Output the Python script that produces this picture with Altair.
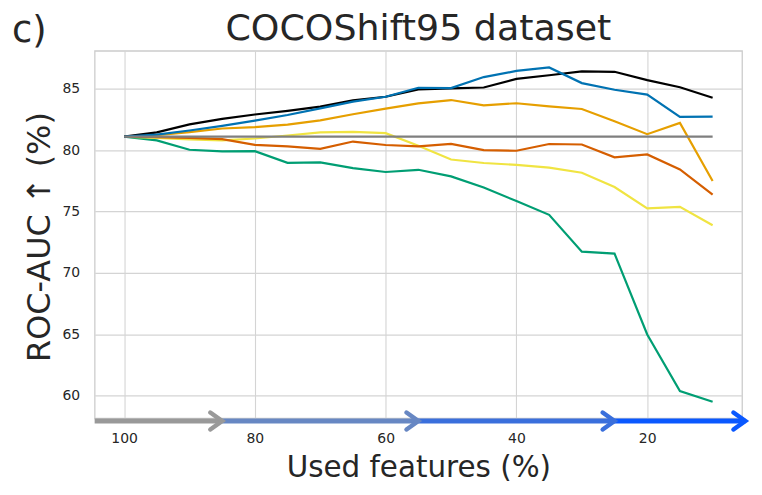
import altair as alt
import pandas as pd

# ---- data ----
features = [100, 95, 90, 85, 80, 75, 70, 65, 60, 55, 50, 45, 40, 35, 30, 25, 20, 15, 10]

black = [81.1, 81.45, 82.1, 82.55, 82.9, 83.2, 83.55, 84.05, 84.35, 84.95, 85.03, 85.1,
         85.8, 86.1, 86.42, 86.38, 85.7, 85.12, 84.27]
blue = [81.1, 81.27, 81.6, 81.98, 82.4, 82.86, 83.4, 83.95, 84.35, 85.08, 85.05, 85.95,
        86.45, 86.73, 85.46, 84.92, 84.52, 82.71, 82.73]
orange = [81.1, 81.22, 81.46, 81.76, 81.87, 82.08, 82.42, 82.92, 83.38, 83.81, 84.08, 83.65,
          83.82, 83.57, 83.35, 82.35, 81.3, 82.22, 77.49]
vermillion = [81.1, 81.05, 81.0, 80.9, 80.43, 80.3, 80.1, 80.7, 80.42, 80.3, 80.51, 80.0,
              79.95, 80.5, 80.46, 79.41, 79.65, 78.43, 76.38]
yellow = [81.1, 81.0, 80.87, 80.8, 80.95, 81.19, 81.45, 81.49, 81.38, 80.35, 79.24, 78.95,
          78.8, 78.57, 78.16, 77.0, 75.25, 75.38, 73.88]
green = [81.1, 80.79, 80.03, 79.9, 79.92, 78.97, 79.0, 78.54, 78.22, 78.4, 77.86, 76.95,
         75.85, 74.73, 71.73, 71.57, 64.99, 60.38, 59.51]
baseline = [81.1] * len(features)

series_names = ["green", "yellow", "vermillion", "orange", "black", "blue", "baseline"]
series_values = [green, yellow, vermillion, orange, black, blue, baseline]
series_colors = ["#009E73", "#F0E442", "#D55E00", "#E69F00", "#000000", "#0072B2", "#7f7f7f"]
series_widths = [2.2, 2.2, 2.2, 2.2, 2.2, 2.2, 2.5]

# stage arrows under the x axis
arrow_start = [104.5, 85, 55, 25]
arrow_end = [85, 55, 25, 5]
arrow_colors = ["#999999", "#6787c3", "#3a6fdc", "#0a58ff"]
arrow_level = 57.94

x_ticks = [100, 80, 60, 40, 20]
y_ticks = [60, 65, 70, 75, 80, 85]
x_domain = [104.5, 5.5]
y_domain = [58.16, 88.09]

title_text = "COCOShift95 dataset"
panel_text = "c)"

rows = []
for order, (name, vals, w) in enumerate(zip(series_names, series_values, series_widths)):
    for f, v in zip(features, vals):
        rows.append({"series": name, "order": order, "features": f, "auc": v, "w": w})
df = pd.DataFrame(rows)

arrows = pd.DataFrame({
    "start": arrow_start,
    "end": arrow_end,
    "stage": [f"s{i}" for i in range(len(arrow_start))],
    "level": [arrow_level] * len(arrow_start),
})

W, H = 650, 369
FONT = "DejaVu Sans"
TXT = "#262626"

x_scale = alt.Scale(domain=x_domain, nice=False, zero=False)
y_scale = alt.Scale(domain=y_domain, nice=False, zero=False)

lines = alt.Chart(df).mark_line().encode(
    x=alt.X("features:Q", scale=x_scale,
            axis=alt.Axis(values=x_ticks, title="Used features (%)", grid=True,
                          ticks=False, tickSize=0, domain=False,
                          labelFontSize=14, labelPadding=13, labelColor=TXT,
                          labelFont=FONT, titleFont=FONT, titleFontSize=29.5,
                          titleFontWeight="normal", titleColor=TXT,
                          titleBaseline="alphabetic", titleY=58, titleX=W / 2)),
    y=alt.Y("auc:Q", scale=y_scale,
            axis=alt.Axis(values=y_ticks, title="ROC-AUC ↑  (%)", grid=True,
                          ticks=False, tickSize=0, domain=False,
                          labelFontSize=14, labelPadding=15, labelColor=TXT,
                          labelFont=FONT, titleFont=FONT, titleFontSize=32,
                          titleFontWeight="normal", titleColor=TXT,
                          titleBaseline="alphabetic", titleX=-45, titleY=H / 2 + 2,
                          titleAngle=270)),
    color=alt.Color("series:N", scale=alt.Scale(domain=series_names, range=series_colors),
                    legend=None),
    strokeWidth=alt.StrokeWidth("w:Q", scale=None, legend=None),
    order=alt.Order("order:Q"),
    detail="series:N",
)

arrow_color = alt.Color("stage:N", scale=alt.Scale(domain=list(arrows["stage"]), range=arrow_colors),
                        legend=None)

arrow_lines = alt.Chart(arrows).mark_rule(strokeWidth=5).encode(
    x=alt.X("start:Q", scale=x_scale),
    x2="end:Q",
    y=alt.Y("level:Q", scale=y_scale),
    color=arrow_color,
)

arrow_heads = alt.Chart(arrows).mark_point(
    shape="M -1.4 -1 L 0 0 L -1.4 1", filled=False, strokeWidth=4.5, size=290,
    opacity=1, strokeCap="round", strokeJoin="miter",
).encode(
    x=alt.X("end:Q", scale=x_scale),
    y=alt.Y("level:Q", scale=y_scale),
    color=arrow_color,
)

panel_label = alt.Chart(pd.DataFrame({"t": [panel_text]})).mark_text(
    font=FONT, fontSize=37, color=TXT, align="left", baseline="alphabetic"
).encode(x=alt.value(-83), y=alt.value(-8.5), text="t:N")

title_mark = alt.Chart(pd.DataFrame({"t": [title_text]})).mark_text(
    font=FONT, fontSize=36.5, color=TXT, align="center", baseline="alphabetic"
).encode(x=alt.value(W / 2), y=alt.value(-10.5), text="t:N")

chart = alt.layer(lines, arrow_lines, arrow_heads, panel_label, title_mark).resolve_scale(
    color="independent"
).properties(
    width=W, height=H,
    autosize=alt.AutoSizeParams(type="none"),
    padding={"left": 87, "top": 42, "right": 12, "bottom": 70},
).configure_view(
    stroke="#cccccc", strokeWidth=1.3
).configure_axis(
    gridColor="#d4d4d4", gridWidth=1.1
)

chart.save("out.html", embed_options={"renderer": "svg", "actions": False})
